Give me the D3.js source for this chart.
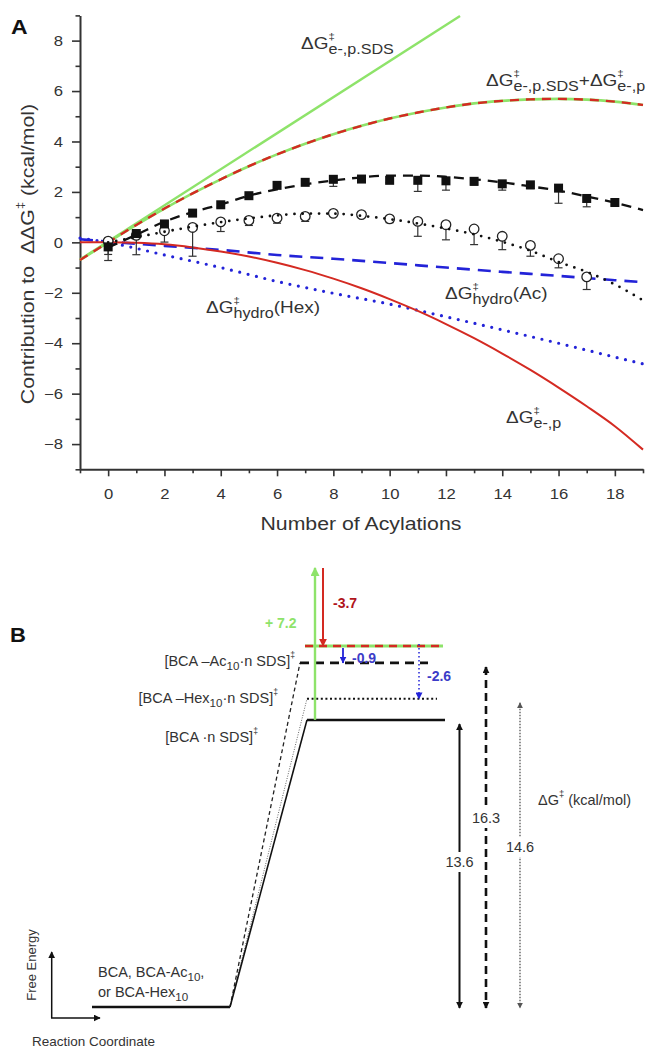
<!DOCTYPE html>
<html>
<head>
<meta charset="utf-8">
<title>Acylation free energy contributions</title>
<script src="https://d3js.org/d3.v7.min.js"></script>
<style>
  body { margin: 0; background: #fff; }
  text { font-family: Arial, "Liberation Sans", sans-serif; fill: #333; white-space: pre; }
</style>
</head>
<body>
<script>
// ---------- panel A data ----------
var curveX = [-1, 0, 1, 2, 3, 4, 5, 6, 7, 8, 9, 10, 11, 12, 13, 14, 15, 16, 17, 18, 19];
var epVals = [0, 0, -0.02, -0.08, -0.2, -0.36, -0.56, -0.81, -1.1, -1.44, -1.82, -2.25, -2.72, -3.24, -3.8, -4.41, -5.06, -5.76, -6.5, -7.29, -8.22];
var sumVals = [-0.7, 0, 0.69, 1.34, 1.94, 2.5, 3.02, 3.49, 3.91, 4.29, 4.62, 4.91, 5.15, 5.35, 5.51, 5.61, 5.67, 5.69, 5.66, 5.58, 5.45];
var sdsX = [-1, 12.5];
var sdsVals = [-0.68, 8.98];
var hydroX = [-1, 0, 2, 4, 6, 8, 10, 12, 14, 16, 18, 19];
var hydroAcVals = [0.12, 0.03, -0.14, -0.3, -0.5, -0.65, -0.82, -1.0, -1.17, -1.33, -1.5, -1.58];
var hydroHexVals = [0.17, 0.0, -0.5, -1.0, -1.55, -2.02, -2.45, -2.95, -3.47, -4.0, -4.55, -4.82];

var acN = [0, 1, 2, 3, 4, 5, 6, 7, 8, 9, 10, 11, 12, 13, 14, 15, 16, 17, 18];
var acData = [-0.18, 0.35, 0.73, 1.16, 1.49, 1.85, 2.26, 2.38, 2.5, 2.51, 2.46, 2.46, 2.44, 2.42, 2.32, 2.28, 2.15, 1.74, 1.58];
var acErr = [0.3, 0.1, 0.1, 0.1, 0.1, 0.1, 0.05, 0.1, 0.28, 0.1, 0.1, 0.44, 0.37, 0.15, 0.25, 0.15, 0.6, 0.33, 0.1];
var hexN = [0, 1, 2, 3, 4, 5, 6, 7, 8, 9, 10, 11, 12, 13, 14, 15, 16, 17];
var hexData = [0.05, 0.28, 0.46, 0.59, 0.81, 0.87, 0.96, 1.03, 1.15, 1.1, 0.93, 0.83, 0.7, 0.53, 0.24, -0.12, -0.65, -1.37];
var hexErr = [0.77, 0.77, 0.45, 1.14, 0.38, 0.2, 0.2, 0.2, 0.1, 0.1, 0.15, 0.59, 0.6, 0.62, 0.53, 0.43, 0.36, 0.5];
var fitX = [0, 1, 2, 3, 4, 5, 6, 7, 8, 9, 10, 11, 12, 13, 14, 15, 16, 17, 18, 19];
var acFit = [-0.2, 0.3, 0.82, 1.2, 1.5, 1.85, 2.1, 2.3, 2.45, 2.58, 2.65, 2.65, 2.6, 2.5, 2.38, 2.22, 2.05, 1.82, 1.57, 1.28];
var hexFit = [0.0, 0.2, 0.42, 0.62, 0.8, 0.95, 1.07, 1.14, 1.14, 1.05, 0.92, 0.75, 0.55, 0.32, 0.02, -0.33, -0.78, -1.17, -1.67, -2.3];

var xMajor = [0, 2, 4, 6, 8, 10, 12, 14, 16, 18];
var yMajor = [-8, -6, -4, -2, 0, 2, 4, 6, 8];

// ---------- panel B data ----------
var barrierValues = [13.6, 16.3, 14.6];          // BCA, BCA-Ac10, BCA-Hex10
var barrierText = ["13.6", "16.3", "14.6"];
var stepValues = [7.2, -3.7, -0.9, -2.6];         // e-,p.SDS ; e-,p ; hydro(Ac) ; hydro(Hex)
var stepText = ["+ 7.2", "-3.7", "-0.9", "-2.6"];

var GREEN = "#8ee36a", RED = "#d42a22", BLUE = "#2323d8", DARKRED = "#b0141c", BLUETXT = "#3c3cc8";

var svg = d3.select("body").append("svg").attr("width", 649).attr("height", 1050);

// rich text: tokens of {t, sup, sub}; sup and sub are stacked after t
function rich(parent, x, y, tokens, o) {
    o = o || {};
    var fs = o.fs || 16, sx = o.sx || 1, subR = o.subR || 0.8, supR = o.supR || 0.62;
    var outer = parent.append("g");
    var g = outer.append("g");
    var cx = 0;
    function add(px, py, size, str) {
        return g.append("text").attr("x", px).attr("y", py)
            .style("font-size", size + "px").style("font-weight", o.weight || "normal")
            .style("fill", o.fill || "#333").text(str).node().getComputedTextLength();
    }
    tokens.forEach(function (tk) {
        var w = 0, ws = 0;
        if (tk.t != null) w = add(cx, 0, fs, tk.t);
        if (tk.sup != null) ws = add(cx + w, -fs * 0.55, fs * supR, tk.sup);
        if (tk.sub != null) ws = Math.max(ws, add(cx + w, fs * 0.3, fs * subR, tk.sub));
        cx += w + ws;
    });
    var off = o.anchor === "end" ? -cx : o.anchor === "middle" ? -cx / 2 : 0;
    g.attr("transform", "scale(" + sx + ",1) translate(" + off + ",0)");
    outer.attr("transform", "translate(" + x + "," + y + ")" + (o.rot ? " rotate(" + o.rot + ")" : ""));
    return outer;
}

function marker(id, color, size) {
    svg.append("defs").append("marker")
        .attr("id", id).attr("viewBox", "0 0 10 10").attr("refX", 9).attr("refY", 5)
        .attr("markerWidth", size).attr("markerHeight", size)
        .attr("markerUnits", "userSpaceOnUse").attr("orient", "auto-start-reverse")
        .append("path").attr("d", "M0,0 L10,5 L0,10 z").attr("fill", color);
}
marker("ahBlack", "#111", 7);
marker("ahGray", "#555", 6);
marker("ahGreen", GREEN, 9);
marker("ahRed", RED, 8);
marker("ahBlue", BLUE, 7);

// =================== PANEL A ===================
var x = d3.scaleLinear().domain([-1, 19]).range([80, 643]);
var y = d3.scaleLinear().domain([-9, 9]).range([469.3, 15.4]);
var A = svg.append("g");

function styleAxis(g) {
    g.select(".domain").attr("stroke", "#333").attr("stroke-width", 2);
    g.selectAll(".tick line").attr("stroke", "#333").attr("stroke-width", 1.6);
}

var gx = A.append("g").attr("transform", "translate(0," + y(-9) + ")")
    .call(d3.axisBottom(x).tickValues(xMajor).tickSize(7).tickSizeOuter(0).tickPadding(12));
styleAxis(gx);
gx.selectAll("text").style("font-size", "14.5px").style("fill", "#333").attr("transform", "scale(1.15,1)");
var gxm = A.append("g").attr("transform", "translate(0," + y(-9) + ")")
    .call(d3.axisBottom(x).tickValues(d3.range(-1, 20, 2)).tickSize(4).tickFormat(""));
gxm.select(".domain").remove();
gxm.selectAll(".tick line").attr("stroke", "#333").attr("stroke-width", 1.6);

var gy = A.append("g").attr("transform", "translate(" + x(-1) + ",0)")
    .call(d3.axisLeft(y).tickValues(yMajor).tickSize(8).tickSizeOuter(0));
styleAxis(gy);
gy.selectAll("text").style("font-size", "14.5px").style("fill", "#333")
    .attr("x", -17 / 1.15).attr("transform", "scale(1.15,1)");
var gym = A.append("g").attr("transform", "translate(" + x(-1) + ",0)")
    .call(d3.axisLeft(y).tickValues(d3.range(-9, 10, 2)).tickSize(4.5).tickFormat(""));
gym.select(".domain").remove();
gym.selectAll(".tick line").attr("stroke", "#333").attr("stroke-width", 1.6);

// axis titles
rich(A, 361, 530, [{ t: "Number of Acylations" }], { fs: 18.5, sx: 1.15, anchor: "middle" });
rich(A, 34, 254, [{ t: "Contribution to  ΔΔG", sup: "‡" }, { t: " (kcal/mol)" }],
    { fs: 18.5, sx: 1.15, anchor: "middle", rot: -90, supR: 0.6 });
rich(A, 11, 34, [{ t: "A" }], { fs: 20, sx: 1.15, weight: "bold", fill: "#111" });

// curves
var line = d3.line().x(function (d) { return x(d[0]); }).y(function (d) { return y(d[1]); })
    .curve(d3.curveMonotoneX);

A.append("path").datum(d3.zip(hydroX, hydroAcVals)).attr("d", line)
    .attr("fill", "none").attr("stroke", BLUE).attr("stroke-width", 2.6).attr("stroke-dasharray", "13,8");
A.append("path").datum(d3.zip(hydroX, hydroHexVals)).attr("d", line)
    .attr("fill", "none").attr("stroke", BLUE).attr("stroke-width", 3.2)
    .attr("stroke-linecap", "round").attr("stroke-dasharray", "0,8.6");
A.append("path").datum(d3.zip(curveX, epVals)).attr("d", line)
    .attr("fill", "none").attr("stroke", RED).attr("stroke-width", 2);
A.append("path").datum(d3.zip(sdsX, sdsVals)).attr("d", line)
    .attr("fill", "none").attr("stroke", GREEN).attr("stroke-width", 2.4);
A.append("path").datum(d3.zip(curveX, sumVals)).attr("d", line)
    .attr("fill", "none").attr("stroke", GREEN).attr("stroke-width", 2.6);
A.append("path").datum(d3.zip(curveX, sumVals)).attr("d", line)
    .attr("fill", "none").attr("stroke", RED).attr("stroke-width", 2.4).attr("stroke-dasharray", "9,7");

// error bars (lower side) and markers
function errBars(xs, vals, errs) {
    var d = d3.zip(xs, vals, errs);
    var g = A.append("g").attr("stroke", "#333").attr("stroke-width", 1.2);
    g.selectAll(".v").data(d).join("line")
        .attr("x1", function (p) { return x(p[0]); }).attr("x2", function (p) { return x(p[0]); })
        .attr("y1", function (p) { return y(p[1]); }).attr("y2", function (p) { return y(p[1] - p[2]); });
    g.selectAll(".c").data(d).join("line")
        .attr("x1", function (p) { return x(p[0]) - 4; }).attr("x2", function (p) { return x(p[0]) + 4; })
        .attr("y1", function (p) { return y(p[1] - p[2]); }).attr("y2", function (p) { return y(p[1] - p[2]); });
}
errBars(hexN, hexData, hexErr);
errBars(acN, acData, acErr);

A.append("g").selectAll("circle").data(d3.zip(hexN, hexData)).join("circle")
    .attr("cx", function (p) { return x(p[0]); }).attr("cy", function (p) { return y(p[1]); })
    .attr("r", 4.8).attr("fill", "#fff").attr("stroke", "#222").attr("stroke-width", 1.3);
A.append("g").selectAll("rect").data(d3.zip(acN, acData)).join("rect")
    .attr("x", function (p) { return x(p[0]) - 4.5; }).attr("y", function (p) { return y(p[1]) - 4.5; })
    .attr("width", 9).attr("height", 9).attr("fill", "#111");

A.append("path").datum(d3.zip(fitX, acFit)).attr("d", line)
    .attr("fill", "none").attr("stroke", "#111").attr("stroke-width", 2.3).attr("stroke-dasharray", "10,7");
A.append("path").datum(d3.zip(fitX, hexFit)).attr("d", line)
    .attr("fill", "none").attr("stroke", "#111").attr("stroke-width", 2.8)
    .attr("stroke-linecap", "round").attr("stroke-dasharray", "0,8.2");

// curve labels
var lab = { fs: 16.5, sx: 1.15, subR: 0.85, supR: 0.6 };
rich(A, 301, 49, [{ t: "ΔG", sup: "‡", sub: "e-,p.SDS" }], lab);
rich(A, 486, 86, [{ t: "ΔG", sup: "‡", sub: "e-,p.SDS" }, { t: "+ΔG", sup: "‡", sub: "e-,p" }], lab);
rich(A, 206, 313, [{ t: "ΔG", sup: "‡", sub: "hydro" }, { t: "(Hex)" }], lab);
rich(A, 445, 299, [{ t: "ΔG", sup: "‡", sub: "hydro" }, { t: "(Ac)" }], lab);
rich(A, 506, 423, [{ t: "ΔG", sup: "‡", sub: "e-,p" }], lab);

// =================== PANEL B ===================
var B = svg.append("g");
var yE = d3.scaleLinear().domain([0, 17.1]).range([1007, 646]);
var baseX = [92, 230];
var tsX = [307, 445];

rich(B, 10, 642, [{ t: "B" }], { fs: 20, sx: 1.1, weight: "bold", fill: "#111" });

// reactant level
B.append("line").attr("x1", baseX[0]).attr("x2", baseX[1]).attr("y1", yE(0)).attr("y2", yE(0))
    .attr("stroke", "#111").attr("stroke-width", 2.5);

var eBCA = barrierValues[0], eAc = barrierValues[1], eHex = barrierValues[2];
var eTop = eBCA + stepValues[0];            // after SDS term
var eSum = eTop + stepValues[1];            // after e-,p term

// slanted connectors
B.append("line").attr("x1", baseX[1]).attr("y1", yE(0)).attr("x2", 300).attr("y2", yE(eAc))
    .attr("stroke", "#222").attr("stroke-width", 1.3).attr("stroke-dasharray", "4,3");
B.append("line").attr("x1", baseX[1]).attr("y1", yE(0)).attr("x2", tsX[0]).attr("y2", yE(eHex))
    .attr("stroke", "#666").attr("stroke-width", 1).attr("stroke-dasharray", "1,1.5");
B.append("line").attr("x1", baseX[1]).attr("y1", yE(0)).attr("x2", tsX[0]).attr("y2", yE(eBCA))
    .attr("stroke", "#111").attr("stroke-width", 1.6);

// transition state levels
B.append("line").attr("x1", tsX[0]).attr("x2", tsX[1]).attr("y1", yE(eBCA)).attr("y2", yE(eBCA))
    .attr("stroke", "#111").attr("stroke-width", 2.5);
B.append("line").attr("x1", tsX[0]).attr("x2", 437).attr("y1", yE(eHex)).attr("y2", yE(eHex))
    .attr("stroke", "#111").attr("stroke-width", 2).attr("stroke-dasharray", "2,2.6");
B.append("line").attr("x1", 300).attr("x2", 428).attr("y1", yE(eAc)).attr("y2", yE(eAc))
    .attr("stroke", "#111").attr("stroke-width", 2.6).attr("stroke-dasharray", "9,6");
B.append("line").attr("x1", 305).attr("x2", 443).attr("y1", yE(eSum)).attr("y2", yE(eSum))
    .attr("stroke", GREEN).attr("stroke-width", 3);
B.append("line").attr("x1", 305).attr("x2", 443).attr("y1", yE(eSum)).attr("y2", yE(eSum))
    .attr("stroke", RED).attr("stroke-width", 2.6).attr("stroke-dasharray", "8,6");

// step arrows
B.append("line").attr("x1", 315).attr("x2", 315).attr("y1", yE(eBCA)).attr("y2", yE(eTop))
    .attr("stroke", GREEN).attr("stroke-width", 2.4).attr("marker-end", "url(#ahGreen)");
B.append("line").attr("x1", 323).attr("x2", 323).attr("y1", yE(eTop)).attr("y2", yE(eSum))
    .attr("stroke", RED).attr("stroke-width", 2).attr("marker-end", "url(#ahRed)");
B.append("line").attr("x1", 343).attr("x2", 343).attr("y1", yE(eAc - stepValues[2]) + 4).attr("y2", yE(eAc))
    .attr("stroke", BLUE).attr("stroke-width", 1.8).attr("marker-end", "url(#ahBlue)");
B.append("line").attr("x1", 419).attr("x2", 419).attr("y1", yE(eHex - stepValues[3])).attr("y2", yE(eHex))
    .attr("stroke", BLUE).attr("stroke-width", 1.5).attr("stroke-dasharray", "1.5,2.5")
    .attr("marker-end", "url(#ahBlue)");

rich(B, 265, 628, [{ t: stepText[0] }], { fs: 14, weight: "bold", fill: GREEN });
rich(B, 333, 608, [{ t: stepText[1] }], { fs: 14, weight: "bold", fill: DARKRED });
rich(B, 352, 663, [{ t: stepText[2] }], { fs: 14, weight: "bold", fill: BLUETXT });
rich(B, 427, 681, [{ t: stepText[3] }], { fs: 14, weight: "bold", fill: BLUETXT });

// level labels
var bl = { fs: 14.5, anchor: "end", subR: 0.8, supR: 0.6 };
rich(B, 295, 666, [{ t: "[BCA –Ac", sub: "10" }, { t: "·n SDS]", sup: "‡" }], bl);
rich(B, 278, 703, [{ t: "[BCA –Hex", sub: "10" }, { t: "·n SDS]", sup: "‡" }], bl);
rich(B, 258, 742, [{ t: "[BCA ·n SDS]", sup: "‡" }], bl);
rich(B, 98, 977, [{ t: "BCA, BCA-Ac", sub: "10" }, { t: "," }], { fs: 14.5, subR: 0.8 });
rich(B, 98, 997, [{ t: "or BCA-Hex", sub: "10" }], { fs: 14.5, subR: 0.8 });

// barrier arrows on the right
var barX = [459.5, 486, 520];
var barLabelY = [867, 823, 852];
var barStyle = [
    { w: 2, dash: null, c: "#111", m: "ahBlack" },
    { w: 2.6, dash: "8,5", c: "#111", m: "ahBlack" },
    { w: 1.3, dash: "1.5,1.5", c: "#555", m: "ahGray" }
];
barrierValues.forEach(function (v, i) {
    var s = barStyle[i];
    B.append("line").attr("x1", barX[i]).attr("x2", barX[i]).attr("y1", yE(v) + 4).attr("y2", yE(0) + 1)
        .attr("stroke", s.c).attr("stroke-width", s.w).attr("stroke-dasharray", s.dash)
        .attr("marker-start", "url(#" + s.m + ")").attr("marker-end", "url(#" + s.m + ")");
    B.append("rect").attr("x", barX[i] - 15).attr("y", barLabelY[i] - 15).attr("width", 30).attr("height", 20)
        .attr("fill", "#fff");
    rich(B, barX[i], barLabelY[i], [{ t: barrierText[i] }], { fs: 14.5, anchor: "middle" });
});
rich(B, 538, 805, [{ t: "ΔG", sup: "‡" }, { t: " (kcal/mol)" }], { fs: 14.5, supR: 0.65 });

// free energy / reaction coordinate axes
B.append("line").attr("x1", 51.7).attr("x2", 51.7).attr("y1", 1018).attr("y2", 952)
    .attr("stroke", "#111").attr("stroke-width", 1.5).attr("marker-end", "url(#ahBlack)");
B.append("line").attr("x1", 51).attr("x2", 100).attr("y1", 1018).attr("y2", 1018)
    .attr("stroke", "#111").attr("stroke-width", 1.5).attr("marker-end", "url(#ahBlack)");
rich(B, 36, 965, [{ t: "Free Energy" }], { fs: 13, anchor: "middle", rot: -90 });
rich(B, 32, 1046, [{ t: "Reaction Coordinate" }], { fs: 13.5 });
</script>
</body>
</html>
